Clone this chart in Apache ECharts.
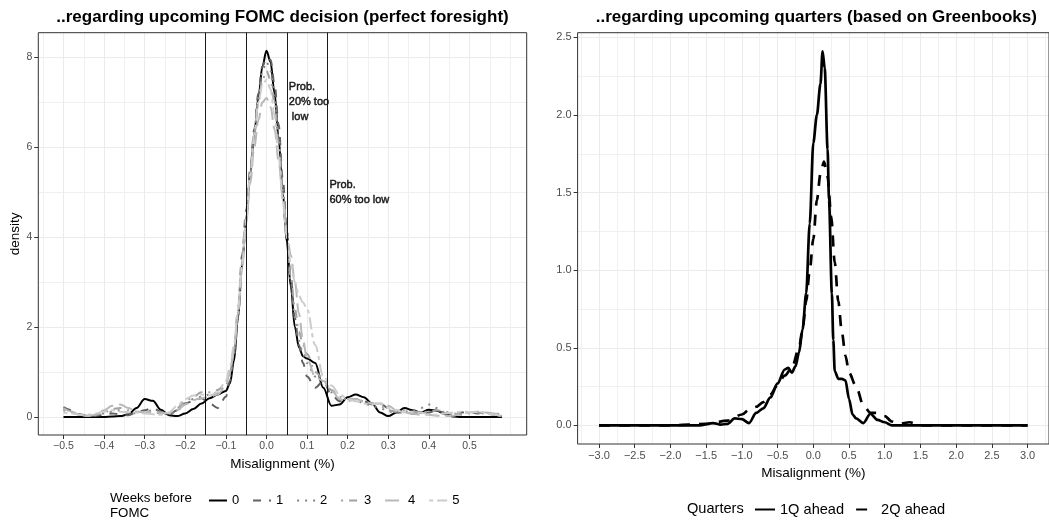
<!DOCTYPE html>
<html><head><meta charset="utf-8">
<script src="https://cdn.jsdelivr.net/npm/echarts@6/dist/echarts.min.js"></script>
<style>html,body{margin:0;padding:0;background:#fff}#c{width:1049px;height:520px}</style>
</head><body><div id="c"></div>
<script>
// ---------- data: left panel (weeks before FOMC) ----------
const leftX = [-0.50,-0.48,-0.46,-0.44,-0.42,-0.40,-0.38,-0.36,-0.34,-0.32,-0.30,-0.28,-0.26,-0.24,-0.22,-0.20,-0.18,-0.16,-0.14,-0.12,
 -0.10,-0.09,-0.08,-0.07,-0.06,-0.05,-0.04,-0.03,-0.02,-0.01,0.00,0.01,0.02,0.03,0.04,0.05,0.06,0.07,0.08,0.09,0.10,
 0.12,0.14,0.16,0.18,0.20,0.22,0.24,0.26,0.28,0.30,0.32,0.34,0.36,0.38,0.40,0.42,0.44,0.46,0.48,0.50,0.52,0.54,0.56,0.58];
const week0 = [0,0,0,0,0,0,0.01,0.02,0.06,0.2,0.4,0.36,0.16,0.04,0.02,0.08,0.18,0.3,0.42,0.5,
 0.58,0.75,1.25,2.2,3.4,4.4,5.4,6.3,7.1,7.8,8.15,7.9,7.2,6.2,5.0,3.9,2.9,2.0,1.55,1.35,1.3,
 1.2,0.65,0.25,0.28,0.44,0.5,0.44,0.3,0.1,0.02,0.1,0.2,0.15,0.1,0.16,0.14,0.06,0.01,0,0,0,0,0,0];
const week1 = [0.22,0.15,0.06,0.02,0.03,0.05,0.08,0.06,0.04,0.1,0.15,0.2,0.12,0.05,0.15,0.3,0.36,0.42,0.3,0.2,
 0.45,0.8,1.4,2.4,3.6,4.6,5.5,6.4,7.2,7.8,8.0,7.95,7.4,6.5,5.3,4.2,3.1,2.2,1.6,1.2,0.9,
 0.65,0.8,0.5,0.35,0.38,0.4,0.35,0.28,0.3,0.2,0.1,0.1,0.08,0.05,0.1,0.15,0.08,0.05,0.1,0.12,0.08,0.1,0.05,0.0];
const week2 = [0.18,0.12,0.05,0.02,0.05,0.08,0.12,0.15,0.1,0.08,0.12,0.15,0.1,0.05,0.15,0.3,0.4,0.45,0.5,0.55,
 0.7,0.9,1.4,2.3,3.4,4.4,5.4,6.3,7.1,7.7,7.9,7.7,7.1,6.2,5.1,4.0,3.0,2.2,1.7,1.4,1.2,
 0.9,0.8,0.55,0.4,0.4,0.38,0.3,0.25,0.2,0.12,0.1,0.12,0.15,0.2,0.28,0.2,0.1,0.05,0.1,0.12,0.1,0.08,0.1,0.02];
const week3 = [0.15,0.1,0.05,0.03,0.04,0.1,0.18,0.2,0.15,0.12,0.1,0.1,0.08,0.1,0.2,0.35,0.45,0.55,0.55,0.6,
 0.75,1.0,1.5,2.3,3.4,4.4,5.4,6.3,7.0,7.5,7.7,7.5,7.0,6.1,5.0,4.0,3.1,2.4,1.9,1.6,1.4,
 1.0,0.85,0.6,0.45,0.4,0.4,0.35,0.3,0.25,0.15,0.12,0.15,0.12,0.1,0.12,0.15,0.12,0.08,0.05,0.08,0.1,0.08,0.05,0.02];
const week4 = [0.2,0.12,0.05,0.02,0.05,0.15,0.25,0.28,0.2,0.12,0.1,0.12,0.1,0.08,0.15,0.28,0.38,0.42,0.45,0.5,
 0.7,1.0,1.5,2.3,3.3,4.3,5.2,6.0,6.6,7.0,7.1,6.9,6.4,5.7,4.9,4.1,3.6,3.0,2.3,1.7,1.3,
 0.9,0.8,0.6,0.4,0.35,0.4,0.35,0.3,0.3,0.25,0.15,0.1,0.08,0.05,0.05,0.03,0.02,0.03,0.08,0.1,0.12,0.1,0.08,0.02];
const week5 = [0.1,0.08,0.05,0.05,0.08,0.12,0.15,0.12,0.1,0.1,0.08,0.06,0.05,0.1,0.25,0.4,0.48,0.5,0.48,0.55,
 0.8,1.1,1.6,2.4,3.4,4.4,5.4,6.3,7.0,7.4,7.5,7.3,6.7,5.8,4.8,4.0,3.4,3.0,2.7,2.55,2.4,
 1.6,0.9,0.7,0.5,0.4,0.35,0.3,0.28,0.3,0.2,0.15,0.1,0.12,0.1,0.05,0.05,0.08,0.1,0.12,0.1,0.12,0.1,0.05,0.02];
const weekNames = ['0','1','2','3','4','5'];
const vLines = [-0.15, -0.05, 0.05, 0.15];
const notes = [
  {x: 0.055, y: 7.0, text: 'Prob.\n20% too\n low'},
  {x: 0.155, y: 5.0, text: 'Prob.\n60% too low'}
];
const leftXTicks = [-0.5,-0.4,-0.3,-0.2,-0.1,0,0.1,0.2,0.3,0.4,0.5];
const leftYTicks = [0,2,4,6,8];

// ---------- data: right panel (quarters ahead) ----------
const q1X = [-3,-2.5,-2,-1.6,-1.4,-1.3,-1.2,-1.1,-1.0,-0.9,-0.8,-0.7,-0.6,-0.5,-0.4,-0.35,-0.3,-0.25,-0.2,-0.15,-0.1,-0.05,0,0.05,0.1,0.13,0.16,0.2,0.22,0.26,0.28,0.3,0.35,0.4,0.45,0.5,0.55,0.6,0.7,0.8,0.9,1.0,1.1,1.5,2,2.5,3];
const q1Y = [0,0,0,0,0.015,0.005,0.01,0.045,0.04,0.015,0.08,0.11,0.18,0.27,0.36,0.37,0.34,0.38,0.47,0.62,0.85,1.3,1.82,2.0,2.2,2.41,2.3,1.78,1.45,0.85,0.55,0.35,0.3,0.3,0.29,0.17,0.07,0.045,0.015,0.075,0.035,0.02,0,0,0,0,0];
const q2X = [-3,-2.5,-2,-1.5,-1.2,-1.0,-0.9,-0.8,-0.7,-0.6,-0.5,-0.4,-0.3,-0.2,-0.15,-0.1,-0.05,0,0.05,0.1,0.15,0.2,0.25,0.3,0.35,0.4,0.45,0.5,0.6,0.7,0.8,0.9,1.0,1.1,1.2,1.35,1.5,2,2.5,3];
const q2Y = [0,0,0,0.01,0.03,0.07,0.1,0.12,0.15,0.2,0.26,0.32,0.37,0.5,0.62,0.8,1.0,1.2,1.45,1.62,1.7,1.6,1.35,1.05,0.8,0.6,0.45,0.34,0.25,0.13,0.08,0.08,0.06,0.025,0.01,0.02,0,0,0,0];
const quarterNames = ['1Q ahead','2Q ahead'];
const rightXTicks = [-3,-2.5,-2,-1.5,-1,-0.5,0,0.5,1,1.5,2,2.5,3];
const rightYTicks = [0,0.5,1,1.5,2,2.5];

// ---------- helpers ----------
const FONT = "'Liberation Sans', Arial, Helvetica, sans-serif";
function minorOf(ticks, lo, hi) {
  const d = ticks[1] - ticks[0];
  const ext = [ticks[0] - d].concat(ticks, [ticks[ticks.length - 1] + d]);
  const out = [];
  for (let i = 0; i < ext.length - 1; i++) {
    const m = (ext[i] + ext[i + 1]) / 2;
    if (m >= lo && m <= hi) out.push(+m.toFixed(6));
  }
  [ext[0], ext[ext.length - 1]].forEach(v => { if (v >= lo && v <= hi) out.push(v); });
  return out;
}
const fmt = d => v => (v < -1e-9 ? '\u2212' : '') + Math.abs(v).toFixed(d);

const L = {xmin: -0.562, xmax: 0.641, ymin: -0.40, ymax: 8.55};
const R = {xmin: -3.3, xmax: 3.3, ymin: -0.12, ymax: 2.53};

function mainAxis(grid, lo, hi, ticks, dec, fs, extra) {
  return Object.assign({
    gridIndex: grid, type: 'value', min: lo, max: hi,
    axisLine: {show: false, onZero: false},
    axisTick: {show: true, length: 4, customValues: ticks, lineStyle: {color: '#333', width: 1}},
    axisLabel: {customValues: ticks, formatter: fmt(dec), color: '#4D4D4D', fontSize: fs, fontFamily: FONT, margin: 6},
    splitLine: {show: true, lineStyle: {color: '#EBEBEB', width: 1}},
    minorSplitLine: {show: false}
  }, extra || {});
}
function minorAxis(grid, lo, hi, ticks, pos) {
  return {
    gridIndex: grid, type: 'value', min: lo, max: hi, position: pos,
    axisLine: {show: false, onZero: false},
    axisTick: {show: false, customValues: minorOf(ticks, lo, hi)},
    axisLabel: {show: false},
    splitLine: {show: true, lineStyle: {color: '#F0F0F0', width: 1}}
  };
}

const weekColors = ['#000000', '#626262', '#868686', '#A1A1A1', '#B8B8B8', '#CCCCCC'];
const weekDash = ['solid', [8, 8], [2, 6], [2, 6, 8, 6], [14, 6], [4, 4, 12, 4]];
const weekData = [week0, week1, week2, week3, week4, week5];
const NOSYM = {color: 'rgba(0,0,0,0)', borderColor: 'rgba(0,0,0,0)', borderWidth: 0, opacity: 0};

const series = weekData.map((ys, i) => {
  const s = {
    type: 'line', name: weekNames[i], xAxisIndex: 0, yAxisIndex: 0,
    data: leftX.map((x, j) => [x, ys[j]]),
    symbol: 'none', showSymbol: false, smooth: 0.35, smoothMonotone: 'x',
    lineStyle: {color: weekColors[i], width: 2, type: weekDash[i], cap: 'butt'},
    itemStyle: NOSYM,
    emphasis: {disabled: true}, silent: true
  };
  if (i === 0) {
    s.markLine = {
      silent: true, symbol: ['none', 'none'], label: {show: false},
      lineStyle: {color: '#000', width: 0.9, type: 'solid', opacity: 1},
      data: vLines.map(v => ({xAxis: v})), animation: false
    };
    s.markPoint = {
      silent: true, symbol: 'circle', symbolSize: 0,
      itemStyle: {color: 'rgba(0,0,0,0)'},
      data: notes.map(n => ({coord: [n.x, n.y], value: n.text})),
      label: {show: true, position: 'right', distance: 0, formatter: p => p.value,
        color: '#1a1a1a', fontSize: 11, fontFamily: FONT, lineHeight: 15, align: 'left',
        textBorderColor: '#1a1a1a', textBorderWidth: 0.45}
    };
  }
  return s;
});
series.push({
  type: 'line', name: quarterNames[0], xAxisIndex: 2, yAxisIndex: 2,
  data: q1X.map((x, j) => [x, q1Y[j]]), symbol: 'none', showSymbol: false, smooth: 0.3, smoothMonotone: 'x',
  lineStyle: {color: '#000', width: 2.7, type: 'solid', cap: 'butt'}, itemStyle: NOSYM,
  emphasis: {disabled: true}, silent: true
});
series.push({
  type: 'line', name: quarterNames[1], xAxisIndex: 2, yAxisIndex: 2,
  data: q2X.map((x, j) => [x, q2Y[j]]), symbol: 'none', showSymbol: false, smooth: 0.3, smoothMonotone: 'x',
  lineStyle: {color: '#000', width: 2.7, type: [11, 9], cap: 'butt'}, itemStyle: NOSYM,
  emphasis: {disabled: true}, silent: true
});

const option = {
  animation: false,
  backgroundColor: '#fff',
  textStyle: {fontFamily: FONT},
  grid: [
    {left: 38.3, top: 32.7, width: 488.4, height: 402.3, show: true, borderColor: '#333', borderWidth: 1, backgroundColor: 'transparent', z: 3},
    {left: 577.6, top: 32.7, width: 477.4, height: 411.3, show: true, borderColor: '#333', borderWidth: 1, backgroundColor: 'transparent', z: 3}
  ],
  xAxis: [
    mainAxis(0, L.xmin, L.xmax, leftXTicks, 1, 10.5, {name: 'Misalignment (%)', nameLocation: 'middle', nameGap: 16,
      nameTextStyle: {color: '#000', fontSize: 13.5, fontFamily: FONT}}),
    minorAxis(0, L.xmin, L.xmax, leftXTicks, 'top'),
    mainAxis(1, R.xmin, R.xmax, rightXTicks, 1, 11, {name: 'Misalignment (%)', nameLocation: 'middle', nameGap: 14,
      nameTextStyle: {color: '#000', fontSize: 13.5, fontFamily: FONT}}),
    minorAxis(1, R.xmin, R.xmax, rightXTicks, 'top')
  ],
  yAxis: [
    mainAxis(0, L.ymin, L.ymax, leftYTicks, 0, 10.5, {name: 'density', nameLocation: 'middle', nameGap: 11, nameRotate: 90,
      nameTextStyle: {color: '#000', fontSize: 13.5, fontFamily: FONT}}),
    minorAxis(0, L.ymin, L.ymax, leftYTicks, 'right'),
    mainAxis(1, R.ymin, R.ymax, rightYTicks, 1, 11),
    minorAxis(1, R.ymin, R.ymax, rightYTicks, 'right')
  ],
  legend: [
    {data: weekNames, left: 203, top: 489, orient: 'horizontal', itemWidth: 18, itemHeight: 14, itemGap: 12.8,
      itemStyle: {opacity: 0, borderWidth: 0},
      textStyle: {color: '#000', fontSize: 13, fontFamily: FONT}, selectedMode: false},
    {data: quarterNames, left: 749, top: 497, orient: 'horizontal', itemWidth: 20, itemHeight: 14, itemGap: 11,
      itemStyle: {opacity: 0, borderWidth: 0},
      textStyle: {color: '#000', fontSize: 14.6, fontFamily: FONT}, selectedMode: false}
  ],
  graphic: [
    {type: 'text', x: 282.5, y: 17, silent: true, style: {text: '..regarding upcoming FOMC decision (perfect foresight)',
      font: 'bold 17px ' + FONT, fill: '#000', align: 'center', verticalAlign: 'middle'}},
    {type: 'text', x: 816.3, y: 17, silent: true, style: {text: '..regarding upcoming quarters (based on Greenbooks)',
      font: 'bold 17px ' + FONT, fill: '#000', align: 'center', verticalAlign: 'middle'}},
    {type: 'text', x: 110, y: 491, silent: true, style: {text: 'Weeks before\nFOMC', font: '13.3px ' + FONT,
      fill: '#000', align: 'left', verticalAlign: 'top', lineHeight: 15}},
    {type: 'text', x: 687, y: 509, silent: true, style: {text: 'Quarters', font: '14.6px ' + FONT,
      fill: '#000', align: 'left', verticalAlign: 'middle'}}
  ],
  series: series
};
const chart = echarts.init(document.getElementById('c'), null, {renderer: 'canvas'});
chart.setOption(option);
</script>
</body></html>
